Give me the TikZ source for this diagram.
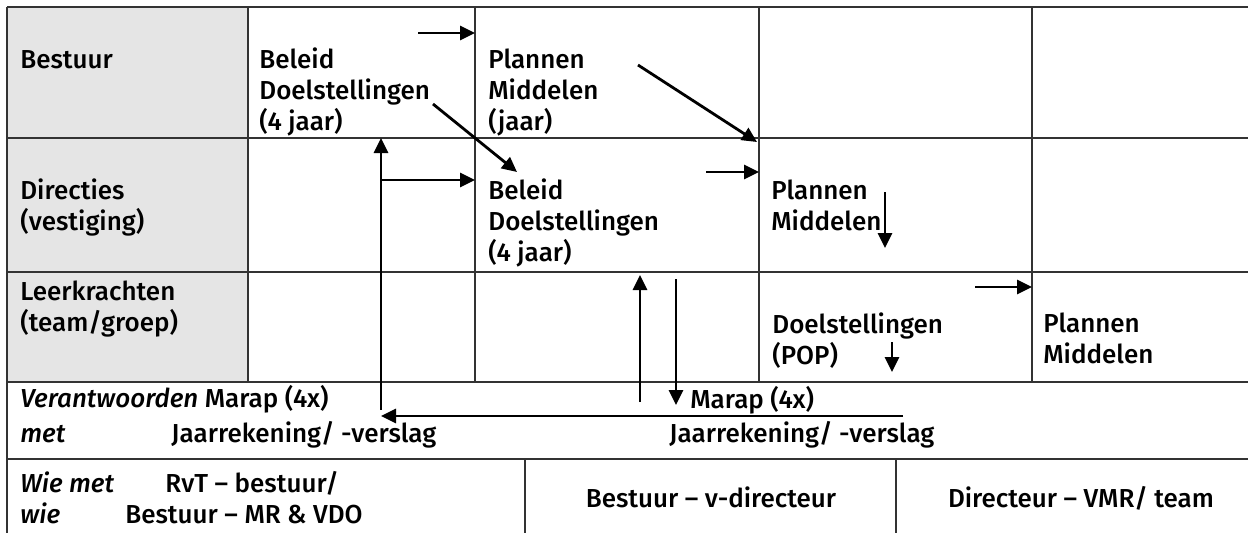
\documentclass[tikz,border=0pt]{standalone}
\usepackage{fontspec}
\setmainfont{Fira Sans}[UprightFont={* Medium},ItalicFont={* Medium Italic}]
\usetikzlibrary{arrows.meta}

\begin{document}
\begin{tikzpicture}[x=0.5pt,y=-0.5pt,
    txt/.style={anchor=base west,inner sep=0pt,align=left,font=\fontsize{13}{15.5}\selectfont},
    ctxt/.style={txt,anchor=base},
    grid/.style={draw=black!80,line width=0.9pt},
    pijl/.style={line width=1.4pt,-{Triangle[length=7.5pt,width=7pt]}}]
    \useasboundingbox (0,0) rectangle (1248,532);
    % grijze kolom
    \fill[gray!20](7,7)rectangle(248,382);
    \foreach \y in {7,138,272,382,459}
    {
    \draw[grid](7,\y)to(1260,\y);
    }
    \foreach \x in {248,475,759,1032}
    {
    \draw[grid](\x,7)to(\x,382);
    }
    \draw[grid](7,7)to(7,540);
    \draw[grid](525,459)to(525,540);
    \draw[grid](896,459)to(896,540);
    % teksten (basislijn = laatste regel)
    \node[txt](bestuur)at(20,68){Bestuur};
    \node[txt](directies)at(20,230){Directies\\(vestiging)};
    \node[txt](leerkr)at(20,331){Leerkrachten\\(team/groep)};
    \node[txt](beleid1)at(259,130){Beleid\\Doelstellingen\\(4 jaar)};
    \node[txt](plannen1)at(488,130){Plannen\\Middelen\\(jaar)};
    \node[txt](beleid2)at(488,261){Beleid\\Doelstellingen\\(4 jaar)};
    \node[txt](plannen2)at(771,230){Plannen\\Middelen};
    \node[txt](doel3)at(772,364){Doelstellingen\\(POP)};
    \node[txt](plannen3)at(1043,363){Plannen\\Middelen};
    \node[txt](verantw)at(20,407){\textit{Verantwoorden} Marap (4x)};
    \node[txt](met)at(20,442){\textit{met}};
    \node[txt](jaar1)at(171,442){Jaarrekening/ -verslag};
    \node[txt](marap2)at(690,408){Marap (4x)};
    \node[txt](jaar2)at(669,442){Jaarrekening/ -verslag};
    \node[txt](wiemet)at(20,492){\textit{Wie met}};
    \node[txt](rvt)at(165,492){RvT -- bestuur/};
    \node[txt](wie)at(20,523){\textit{wie}};
    \node[txt](mr)at(125,523){Bestuur -- MR \& VDO};
    \node[ctxt](vdir)at(711,507){Bestuur -- v-directeur};
    \node[ctxt](vmr)at(1081,507){Directeur -- VMR/ team};
    % pijlen
    \coordinate(a1)at(418,33);   \coordinate(b1)at(475,33);
    \coordinate(a2)at(433,104);  \coordinate(b2)at(517,172);
    \coordinate(a3)at(638,65);   \coordinate(b3)at(757,142);
    \coordinate(a4)at(706,172);  \coordinate(b4)at(759,172);
    \coordinate(a5)at(885,192);  \coordinate(b5)at(885,248);
    \coordinate(a6)at(381,180);  \coordinate(b6)at(475,180);
    \coordinate(a7)at(381,410);  \coordinate(b7)at(381,138);
    \coordinate(a8)at(903,416);  \coordinate(b8)at(381,416);
    \coordinate(a9)at(640,402);  \coordinate(b9)at(640,275);
    \coordinate(a10)at(676,279); \coordinate(b10)at(676,405);
    \coordinate(a11)at(892,342); \coordinate(b11)at(892,372);
    \coordinate(a12)at(975,287); \coordinate(b12)at(1032,287);
    \foreach \i in {1,...,12}
    {
    \draw[pijl](a\i)to(b\i);
    }
\end{tikzpicture}
\end{document}
